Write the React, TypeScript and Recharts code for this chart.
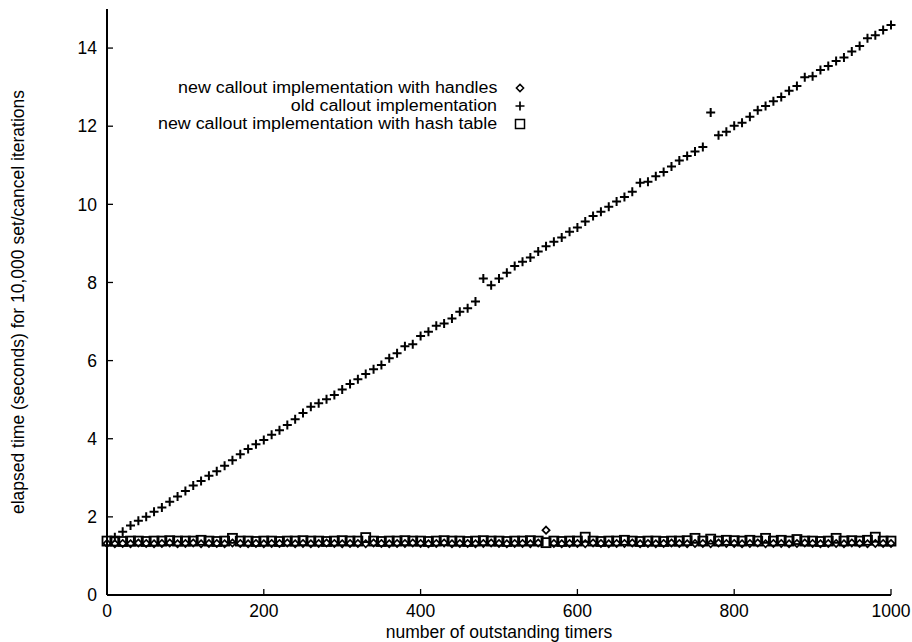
import { ScatterChart, Scatter, XAxis, YAxis, Legend } from 'recharts'

const timers = [
  0, 10, 20, 30, 40, 50, 60, 70, 80, 90,
  100, 110, 120, 130, 140, 150, 160, 170, 180, 190,
  200, 210, 220, 230, 240, 250, 260, 270, 280, 290,
  300, 310, 320, 330, 340, 350, 360, 370, 380, 390,
  400, 410, 420, 430, 440, 450, 460, 470, 480, 490,
  500, 510, 520, 530, 540, 550, 560, 570, 580, 590,
  600, 610, 620, 630, 640, 650, 660, 670, 680, 690,
  700, 710, 720, 730, 740, 750, 760, 770, 780, 790,
  800, 810, 820, 830, 840, 850, 860, 870, 880, 890,
  900, 910, 920, 930, 940, 950, 960, 970, 980, 990,
  1000,
]

// seconds, one per entry of timers (old callout has no point at 0)
const oldCallout = [
  null, 1.48, 1.62, 1.78, 1.9, 2.0, 2.13, 2.24, 2.39, 2.52,
  2.66, 2.8, 2.92, 3.05, 3.17, 3.31, 3.45, 3.6, 3.74, 3.86,
  3.97, 4.1, 4.22, 4.35, 4.5, 4.66, 4.82, 4.91, 5.01, 5.12,
  5.26, 5.4, 5.52, 5.66, 5.78, 5.89, 6.06, 6.19, 6.37, 6.42,
  6.63, 6.74, 6.89, 6.95, 7.08, 7.25, 7.34, 7.51, 8.1, 7.93,
  8.1, 8.25, 8.42, 8.53, 8.64, 8.79, 8.93, 9.04, 9.15, 9.3,
  9.41, 9.56, 9.7, 9.81, 9.94, 10.07, 10.19, 10.32, 10.55, 10.58,
  10.72, 10.83, 10.97, 11.12, 11.24, 11.35, 11.47, 12.35, 11.77, 11.86,
  12.01, 12.09, 12.24, 12.41, 12.52, 12.64, 12.75, 12.91, 13.03, 13.25,
  13.28, 13.44, 13.54, 13.67, 13.76, 13.91, 14.05, 14.25, 14.33, 14.46,
  14.59,
]

const withHandles = [
  1.32, 1.31, 1.32, 1.31, 1.33, 1.32, 1.31, 1.32, 1.33, 1.31,
  1.32, 1.33, 1.31, 1.32, 1.32, 1.31, 1.33, 1.32, 1.31, 1.32,
  1.31, 1.32, 1.32, 1.33, 1.31, 1.32, 1.31, 1.32, 1.33, 1.32,
  1.31, 1.32, 1.32, 1.31, 1.33, 1.32, 1.31, 1.32, 1.32, 1.33,
  1.32, 1.31, 1.32, 1.33, 1.31, 1.32, 1.32, 1.31, 1.32, 1.33,
  1.32, 1.31, 1.32, 1.32, 1.31, 1.33, 1.66, 1.32, 1.31, 1.32,
  1.32, 1.31, 1.33, 1.32, 1.31, 1.32, 1.32, 1.33, 1.31, 1.32,
  1.31, 1.32, 1.33, 1.32, 1.31, 1.32, 1.32, 1.31, 1.33, 1.32,
  1.32, 1.31, 1.32, 1.33, 1.31, 1.32, 1.32, 1.31, 1.32, 1.33,
  1.32, 1.31, 1.32, 1.32, 1.31, 1.33, 1.32, 1.31, 1.32, 1.32,
  1.32,
]

const withHashTable = [
  1.38, 1.38, 1.37, 1.38, 1.38, 1.37, 1.38, 1.38, 1.39, 1.38,
  1.38, 1.38, 1.4, 1.38, 1.37, 1.38, 1.45, 1.38, 1.38, 1.37,
  1.38, 1.38, 1.37, 1.38, 1.38, 1.39, 1.38, 1.38, 1.37, 1.38,
  1.39, 1.38, 1.38, 1.47, 1.38, 1.37, 1.38, 1.38, 1.39, 1.38,
  1.38, 1.37, 1.38, 1.39, 1.38, 1.38, 1.37, 1.38, 1.39, 1.38,
  1.38, 1.37, 1.38, 1.38, 1.39, 1.38, 1.34, 1.38, 1.37, 1.38,
  1.38, 1.48, 1.38, 1.37, 1.38, 1.38, 1.4, 1.38, 1.37, 1.38,
  1.38, 1.37, 1.38, 1.38, 1.39, 1.45, 1.38, 1.43, 1.38, 1.4,
  1.39, 1.38, 1.4, 1.38, 1.45, 1.38, 1.4, 1.38, 1.42, 1.38,
  1.38, 1.37, 1.38, 1.45, 1.38, 1.39, 1.38, 1.4, 1.48, 1.38,
  1.38,
]

const xTicks = [0, 200, 400, 600, 800, 1000]
const yTicks = [0, 2, 4, 6, 8, 10, 12, 14]

const seriesNames = [
  'new callout implementation with handles',
  'old callout implementation',
  'new callout implementation with hash table',
]

const toPoints = (values: (number | null)[]) =>
  timers
    .map((t, i) => ({ timers: t, seconds: values[i] }))
    .filter((p) => p.seconds !== null)

const FONT = '"Liberation Sans", Arial, Helvetica, sans-serif'
const FS = 17.5

function Plus(props: any) {
  const { cx, cy } = props
  return <path d={`M${cx - 4.5},${cy}h9M${cx},${cy - 4.5}v9`} stroke="#000" strokeWidth={2} fill="none" />
}

function Diamond(props: any) {
  const { cx, cy } = props
  const r = 3.6
  return (
    <path
      d={`M${cx},${cy - r}L${cx + r},${cy}L${cx},${cy + r}L${cx - r},${cy}Z`}
      stroke="#000"
      strokeWidth={1.7}
      fill="none"
    />
  )
}

function Square(props: any) {
  const { cx, cy } = props
  return <rect x={cx - 4.5} y={cy - 4.5} width={9} height={9} stroke="#000" strokeWidth={1.8} fill="none" />
}

const none = () => <g />

// gnuplot-style key: right-aligned names, symbol on the right
function KeyBox() {
  const glyphs = [
    <path key="d" d="M23,5.4L26.6,9L23,12.6L19.4,9Z" stroke="#000" strokeWidth={1.5} fill="none" />,
    <path key="p" d="M18.5,9h9M23,4.5v9" stroke="#000" strokeWidth={1.7} fill="none" />,
    <rect key="s" x={18.5} y={4.5} width={9} height={9} stroke="#000" strokeWidth={1.5} fill="none" />,
  ]
  return (
    <div style={{ fontFamily: FONT, fontSize: 16, color: '#000' }}>
      {seriesNames.map((name, i) => (
        <div key={name} style={{ display: 'flex', alignItems: 'center', height: 18 }}>
          <div style={{ width: 347, textAlign: 'right', lineHeight: '18px', whiteSpace: 'nowrap' }}>
            <span style={{ display: 'inline-block', transform: 'scaleX(1.115)', transformOrigin: 'right center' }}>
              {name}
            </span>
          </div>
          <svg width={46} height={18}>{glyphs[i]}</svg>
        </div>
      ))}
    </div>
  )
}

export default function App() {
  const axisLine = { stroke: '#000', strokeWidth: 2 }
  const tickLine = { stroke: '#000', strokeWidth: 1.3 }
  const tick = { fill: '#000', fontSize: FS }

  return (
    <div style={{ position: 'absolute', left: 0, top: 0, width: 912, height: 642, background: '#fff', fontFamily: FONT }}>
      <ScatterChart width={912} height={642} margin={{ top: 9, right: 21, bottom: 0, left: 0 }}>
        <XAxis
          dataKey="timers"
          type="number"
          domain={[0, 1000]}
          ticks={xTicks}
          height={47}
          axisLine={axisLine}
          tickLine={tickLine}
          tickSize={-6}
          tickMargin={16}
          tick={tick}
          label={{ value: 'number of outstanding timers', position: 'insideBottom', offset: 4, fill: '#000', fontSize: FS }}
        />
        <XAxis
          xAxisId="top"
          orientation="top"
          type="number"
          domain={[0, 1000]}
          allowDataOverflow
          ticks={xTicks}
          height={0}
          axisLine={axisLine}
          tickLine={tickLine}
          tickSize={-6}
          tick={none}
        />
        <YAxis
          dataKey="seconds"
          type="number"
          domain={[0, 15]}
          ticks={yTicks}
          width={107}
          axisLine={axisLine}
          tickLine={tickLine}
          tickSize={-6}
          tickMargin={16}
          tick={tick}
          label={{
            value: 'elapsed time (seconds) for 10,000 set/cancel iterations',
            angle: -90,
            position: 'insideLeft',
            offset: 18,
            fill: '#000',
            fontSize: FS,
            style: { textAnchor: 'middle' },
          }}
        />
        <YAxis
          yAxisId="right"
          orientation="right"
          type="number"
          domain={[0, 15]}
          allowDataOverflow
          ticks={yTicks}
          width={0}
          axisLine={axisLine}
          tickLine={tickLine}
          tickSize={-6}
          tick={none}
        />
        <Legend
          layout="horizontal"
          verticalAlign="middle"
          align="center"
          content={() => <KeyBox />}
          wrapperStyle={{ position: 'absolute', left: 150, top: 79, width: 400 }}
        />
        <Scatter name={seriesNames[0]} data={toPoints(withHandles)} shape={Diamond} isAnimationActive={false} />
        <Scatter name={seriesNames[1]} data={toPoints(oldCallout)} shape={Plus} isAnimationActive={false} />
        <Scatter name={seriesNames[2]} data={toPoints(withHashTable)} shape={Square} isAnimationActive={false} />
      </ScatterChart>
    </div>
  )
}
